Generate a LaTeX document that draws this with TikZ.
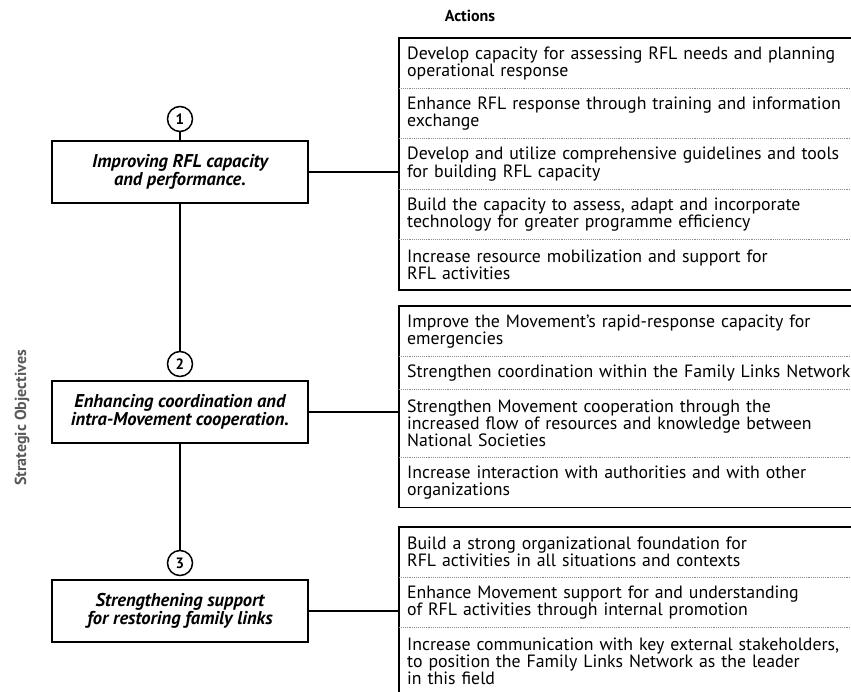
\documentclass[tikz,border=0pt]{standalone}
\usepackage{fontspec}
\setmainfont{PT Sans}
\usetikzlibrary{positioning,fit}

\tikzset{
  objbox/.style={draw, line width=1.6pt, minimum width=256, minimum height=62, inner sep=0pt,
    align=center, font=\fontsize{18.5}{18.5}\selectfont\bfseries\itshape},
  numcirc/.style={draw, circle, line width=1.5pt, minimum size=25, inner sep=0pt,
    font=\fontsize{15}{15}\selectfont\bfseries},
  actrow/.style={anchor=north west, text width=444, inner xsep=8, inner ysep=0pt,
    align=left, font=\fontsize{17.8}{17.2}\selectfont},
  rowsep/.style={draw=black!45, line width=0.9pt, densely dotted},
  grpframe/.style={draw, line width=1.6pt, inner sep=0pt},
  link/.style={line width=1.6pt},
}

\begin{document}
\begin{tikzpicture}[x=1pt,y=1pt,yscale=-1]
\useasboundingbox (0,0) rectangle (851,692);

% Headings
\node[font=\fontsize{16}{16}\selectfont\bfseries] (acts) at (470,16) {Actions};
\node[rotate=90, text=black!65, font=\fontsize{16}{16}\selectfont\bfseries] (strat) at (22,418) {Strategic Objectives};

% Objectives
\node[numcirc] (c1) at (180,119) {1};
\node[objbox] (o1) at (180,172) {Improving RFL capacity\\and performance.};
\node[numcirc] (c2) at (180,364) {2};
\node[objbox] (o2) at (180,412) {Enhancing coordination and\\intra-Movement cooperation.};
\node[numcirc] (c3) at (180,563) {3};
\node[objbox] (o3) at (180,611) {Strengthening support\\for restoring family links};

% Actions, group 1
\node[actrow, minimum height=50] (a11) at (399,38) {Develop capacity for assessing RFL needs and planning\\operational response};
\node[actrow, minimum height=50, below=0pt of a11] (a12) {Enhance RFL response through training and information\\exchange};
\node[actrow, minimum height=50, below=0pt of a12] (a13) {Develop and utilize comprehensive guidelines and tools\\for building RFL capacity};
\node[actrow, minimum height=50, below=0pt of a13] (a14) {Build the capacity to assess, adapt and incorporate\\technology for greater programme efficiency};
\node[actrow, minimum height=50, below=0pt of a14] (a15) {Increase resource mobilization and support for\\RFL activities};
\node[grpframe, fit=(a11)(a15)] (g1) {};

% Actions, group 2
\node[actrow, minimum height=50] (a21) at (399,306) {Improve the Movement's rapid-response capacity for\\emergencies};
\node[actrow, minimum height=33, below=0pt of a21] (a22) {Strengthen coordination within the Family Links Network};
\node[actrow, minimum height=67, below=0pt of a22] (a23) {Strengthen Movement cooperation through the\\increased flow of resources and knowledge between\\National Societies};
\node[actrow, minimum height=50, below=0pt of a23] (a24) {Increase interaction with authorities and with other\\organizations};
\node[grpframe, fit=(a21)(a24)] (g2) {};

% Actions, group 3
\node[actrow, minimum height=50] (a31) at (399,527) {Build a strong organizational foundation for\\RFL activities in all situations and contexts};
\node[actrow, minimum height=50, below=0pt of a31] (a32) {Enhance Movement support for and understanding\\of RFL activities through internal promotion};
\node[actrow, minimum height=67, below=0pt of a32] (a33) {Increase communication with key external stakeholders,\\to position the Family Links Network as the leader\\in this field};
\node[grpframe, fit=(a31)(a33)] (g3) {};

% row separators
\foreach \r in {a11,a12,a13,a14,a21,a22,a23,a31,a32}
  \draw[rowsep] (\r.south west) -- (\r.south east);

% links
\draw[link] (c1) -- (o1);
\draw[link] (o1) -- (c2);
\draw[link] (o2) -- (c3);
\draw[link] (o1.east) -- (o1.east -| g1.west);
\draw[link] (o2.east) -- (o2.east -| g2.west);
\draw[link] (o3.east) -- (o3.east -| g3.west);

\end{tikzpicture}
\end{document}
